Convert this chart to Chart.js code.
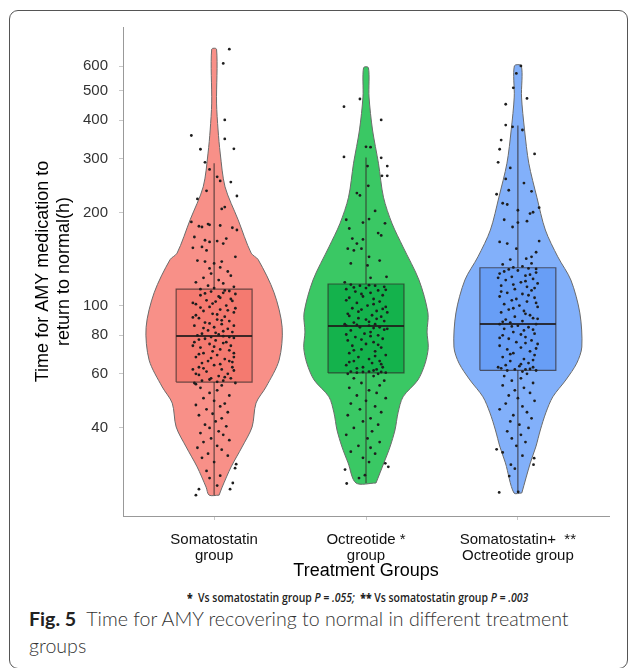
<!DOCTYPE html>
<html>
<head>
<meta charset="utf-8">
<script src="https://cdn.jsdelivr.net/npm/chart.js@4/dist/chart.umd.min.js"></script>
<style>
  body { margin: 0; background: #fff; width: 630px; height: 668px; overflow: hidden; position: relative; font-family: "Liberation Sans", Arial, sans-serif; }
  #frame { position: absolute; left: 9px; top: 10px; width: 619px; height: 659px; border: 1.5px solid #555; border-radius: 9px; box-sizing: border-box; }
  #chart-box { position: absolute; left: 0; top: 0; width: 630px; height: 585px; }
  #note { position: absolute; left: 187px; top: 589px; white-space: nowrap; font: 600 12px "Open Sans", sans-serif; color: #222; transform: scaleX(0.87); transform-origin: left top; }
  #caption { position: absolute; left: 29px; top: 605px; font: 300 19.6px/27px Lato, "Open Sans", sans-serif; color: #333; white-space: nowrap; }
  #caption b { color: #222; font-weight: 700; }
</style>
</head>
<body>
<div id="frame"></div>
<div id="chart-box"><canvas id="violin-chart" width="630" height="585"></canvas></div>
<div id="note"><b>*</b>&nbsp; Vs somatostatin group <i>P = .055;</i>&nbsp; <b>**</b> Vs somatostatin group <i>P = .003</i></div>
<div id="caption"><b>Fig. 5</b>&nbsp; Time for AMY recovering to normal in different treatment<br>groups</div>
<script>
// Categories
const groupLabels = [
  ['Somatostatin', 'group'],
  ['Octreotide *', 'group'],
  ['Somatostatin+  **', 'Octreotide group']
];
const yTicks = [40, 60, 80, 100, 200, 300, 400, 500, 600];

// Violin outlines: time (h) and half width (in category units)
const somaViolinTimes  = [24.2, 25.7, 29.9, 34.7, 40.3, 48.2, 54.4, 66.5, 85, 110, 141, 148, 190, 243, 313, 372, 455, 681];
const somaViolinWidths = [0.033, 0.053, 0.112, 0.184, 0.25, 0.276, 0.342, 0.428, 0.448, 0.395, 0.29, 0.244, 0.158, 0.072, 0.04, 0.026, 0.016, 0.016];
const octViolinTimes   = [26.5, 30.8, 34.7, 39.4, 44.8, 50.5, 57.3, 65, 73, 82, 94.6, 121, 155, 185, 225, 290, 372, 476, 593];
const octViolinWidths  = [0.066, 0.118, 0.158, 0.191, 0.211, 0.244, 0.342, 0.39, 0.41, 0.402, 0.408, 0.349, 0.244, 0.171, 0.115, 0.082, 0.043, 0.02, 0.016];
const combViolinTimes  = [24.6, 30.8, 34.7, 39.4, 44.8, 50.5, 57.3, 65, 73.3, 94.6, 121, 144, 176, 225, 290, 372, 476, 601];
const combViolinWidths = [0.026, 0.082, 0.118, 0.148, 0.184, 0.23, 0.316, 0.388, 0.421, 0.408, 0.349, 0.263, 0.181, 0.125, 0.072, 0.044, 0.024, 0.023];

// Box plots: [lower whisker, Q1, median, Q3, upper whisker]
const somaBox = [24.2, 56.4, 79.6, 113, 290];
const octBox  = [26.5, 60.4, 85.8, 117.5, 303];
const combBox = [24.6, 61.6, 87.1, 132.7, 385];

// Individual patients: [time (h), horizontal jitter]
const somaPoints = [
  [681,0.10],[612,0.06],[401,0.07],[357,-0.15],[348,0.07],[323,0.13],[322,-0.09],[292,-0.06],
  [277,-0.03],[262,0.02],[254,0.04],[252,0.11],[236,-0.05],[227,0.15],[222,-0.11],[209,0.07],[206,0.05],[187,-0.15],
  [181,-0.10],[180,-0.08],[184,-0.04],[183,-0.03],[182,0.04],[179,0.12],[176,0.15],[167,-0.13],[163,-0.06],[161,-0.03],
  [162,0.02],[165,0.08],[159,0.06],[154,-0.14],[155,-0.08],[151,-0.05],[144,0.14],[140,-0.11],[139,-0.06],[137,0.0],
  [139,0.05],[132,-0.03],[133,0.04],[129,0.09],[127,-0.02],[125,0.11],[123,-0.07],[121,0.03],[119,-0.12],[118,0.06],
  [116,-0.04],[115,0.13],[114,0.0],[113,-0.09],[112,0.07],
  [111,-0.02],[110,0.06],[108,-0.09],[107,0.03],[105,0.11],[104,-0.05],[103,0.01],[101,-0.12],[100,0.08],[99,-0.03],
  [97,0.04],[96,-0.07],[95,0.13],[94,-0.01],[92,0.07],[91,-0.10],[90,0.02],[89,0.10],[88,-0.06],[87,0.05],
  [86,-0.13],[85,0.0],[84,0.09],[83,-0.04],[82,0.12],[81,-0.08],[80.5,0.03],[80,-0.11],[79.5,0.06],[79,-0.02],
  [79,0.10],[78,-0.06],[77,0.01],[76,-0.13],[76,0.08],[75,-0.03],[74,0.11],[73,-0.09],[72,0.04],[71,-0.01],
  [70,0.13],[70,-0.07],[69,0.02],[68,-0.12],[67,0.07],[66,-0.04],[66,0.10],[65,-0.08],[64,0.0],[63,0.12],
  [63,-0.10],[62,0.05],[61,-0.05],[60,0.09],[60,-0.12],[59,0.03],[58,-0.02],[58,0.11],[57,-0.08],[57,0.06],
  [56,0.14],[56,-0.13],[98,0.14],[93,-0.12],[86,0.13],[74,-0.14],[68,0.13],[62,-0.14],[102,-0.14],[109,0.14],
  [111.5,0.10],[109.5,-0.06],[106,0.04],[103.5,0.12],[101.5,-0.01],[98.5,-0.09],[96.5,0.09],[93.5,0.02],[91.5,-0.14],[89.5,0.05],
  [87.5,-0.03],[84.5,-0.07],[82.5,0.06],[81.5,0.01],[78.5,0.13],[77.5,-0.10],[75.5,0.06],[73.5,0.0],[71.5,0.10],[69.5,-0.10],
  [67.5,-0.02],[65.5,0.12],[64.5,0.04],[62.5,-0.07],[61.5,0.13],[59.5,-0.10],[58.5,0.07],[57.5,-0.03],[56.5,0.02],[55.5,-0.12],
  [55,0.05],[54,-0.09],[53,0.02],[52,-0.03],[51,0.10],[50,-0.07],[49,0.0],[48,0.07],[47.5,-0.12],[47,0.04],
  [46,-0.05],[45,0.09],[44.5,-0.01],[44,-0.10],[43,0.05],[42,0.01],[41,-0.06],[40.5,0.08],[40,-0.03],[39,0.03],
  [38.5,-0.09],[38,0.06],[37,-0.02],[36.5,0.10],[36,-0.07],[35,0.02],[34.5,-0.11],[34,0.05],[33,-0.04],[32.5,0.09],
  [32,-0.08],[31,0.0],[30.5,0.145],[29.6,0.138],[29,-0.05],[28,0.04],[27.5,-0.03],[26.5,0.123],[26,0.02],[25.3,-0.10],
  [25.3,0.105],[24.2,-0.12]
];
const octPoints = [
  [469,-0.04],[443,-0.145],[401,0.10],[328,0.0],[327,0.03],[304,-0.145],[302,0.10],[284,0.14],[284,0.01],[264,0.105],
  [264,0.14],[245,0.015],[232,-0.06],[228,-0.04],[203,0.06],[191,0.02],[190,-0.13],[185,0.125],[178,-0.11],[186,-0.02],
  [172,0.08],[169,0.10],[165,-0.09],[164,-0.02],[159,-0.06],[153,-0.12],[151,-0.08],[153,-0.03],[144,0.02],[140,0.09],
  [137,-0.10],[135,0.01],[124,0.135],[123,0.03],[119,-0.14],
  [117,-0.10],[116,0.06],[116,-0.04],[115,0.12],[114,0.0],[113,-0.13],[112,0.08],[111,-0.07],[110,0.03],[108,0.11],
  [107,-0.02],[106,-0.11],[105,0.05],[103,0.09],[102,-0.06],[100,0.01],[99,0.13],[98,-0.09],[97,-0.03],[96,0.07],
  [94,-0.12],[93,0.04],[92,0.10],[91,-0.05],[90,0.0],[89,0.12],[88,-0.08],[87,0.06],[86,-0.13],[86,0.02],
  [85,0.09],[85,-0.04],[84,0.14],[83,-0.10],[82,0.03],[81,-0.01],[80,0.08],[79,-0.07],[78,0.11],[77,-0.12],
  [76,0.05],[75,0.0],[74,-0.09],[73,0.10],[72,-0.03],[71,0.06],[70,-0.11],[69,0.13],[68,-0.05],[67,0.02],
  [66,0.09],[66,-0.08],[65,0.04],[64,-0.13],[63,0.11],[63,-0.02],[62,0.07],[61,-0.10],[61,0.02],[60.5,0.13],
  [60.5,-0.06],[60,0.08],[60,-0.12],[95,0.14],[87,-0.14],
  [116.5,0.02],[114.5,-0.08],[112.5,0.13],[109,-0.03],[104,-0.13],[101,0.05],[97.5,0.11],[95.5,-0.05],[92.5,-0.11],[90.5,0.07],
  [88.5,0.02],[86.5,-0.06],[84.5,0.05],[83.5,0.12],[80.5,-0.13],[79.5,0.03],[77.5,-0.03],[74.5,0.08],[71.5,-0.08],[68.5,0.06],
  [65.5,-0.11],[64.5,0.1],[62.5,-0.06],[61.5,0.05],[60.8,-0.02],[60.8,0.1],
  [59,0.05],[58,-0.08],[57,0.12],[56,-0.03],[55,0.09],[54,-0.11],[53,0.02],[52,0.07],[51,-0.06],[50,0.13],
  [49,0.0],[48,-0.10],[47,0.06],[46,-0.04],[45,0.10],[44,-0.12],[43,0.03],[42,-0.02],[41,0.08],[40,-0.08],
  [39,0.04],[38,-0.13],[37,0.01],[36,0.09],[35,-0.05],[34.5,0.03],[33.5,-0.10],[33,0.06],[32,-0.02],[31,0.02],
  [30.7,0.127],[29.9,0.147],[29.3,-0.138],[28.1,-0.007],[27.5,-0.046],[26.4,-0.127]
];
const combPoints = [
  [601,0.02],[568,-0.01],[510,-0.03],[471,0.06],[451,-0.08],[386,-0.08],[381,-0.035],[372,0.03],[345,-0.11],[322,-0.12],
  [311,0.11],[292,-0.13],[280,-0.05],[258,-0.08],[250,0.04],[237,-0.06],[235,0.09],[230,-0.14],[208,0.14],[215,-0.10],
  [213,-0.07],[199,0.08],[204,0.0],[201,0.10],[190,-0.09],[180,-0.035],[186,0.0],[188,0.06],[161,-0.12],[159,-0.07],
  [162,0.14],[153,-0.01],[149,0.12],[141,-0.05],[142,0.055],[144,0.09],
  [137,0.09],[136,-0.10],[134,0.03],[133,-0.03],[132,0.07],[131,-0.06],[130,0.0],[128,0.12],[127,-0.12],[125,0.05],
  [124,-0.04],[122,0.10],[121,-0.08],[119,0.02],[118,0.13],[116,-0.11],[115,0.06],[113,-0.02],[112,0.09],[110,-0.07],
  [109,0.03],[107,-0.12],[106,0.11],[104,-0.04],[103,0.06],[101,-0.09],[100,0.01],[99,0.13],[97,-0.06],[96,0.04],
  [95,-0.11],[93,0.08],[92,-0.02],[91,0.10],[90,-0.08],[89,0.03],[88,-0.05],[87,0.12],[87,-0.12],[86,0.0],
  [85,0.07],[84,-0.09],[83,0.04],[82,-0.03],[81,0.11],[80,-0.10],[79,0.05],[78,-0.06],[77,0.09],[76,-0.01],
  [75,0.13],[74,-0.12],[73,0.02],[72,-0.07],[71,0.08],[70,-0.03],[69,0.11],[68,-0.10],[67,0.04],[66,-0.05],
  [65,0.07],[64,-0.08],[63.5,0.01],[63,0.10],[62.5,-0.11],[62,0.05],[62,-0.02],[61.5,0.12],[61.5,-0.07],[61,0.03],
  [131.5,0.12],[129,-0.09],[126,0.08],[123,-0.13],[120,0.05],[117,-0.03],[114,0.11],[111,-0.11],[108,0.07],[105,-0.01],
  [102,0.12],[98,-0.03],[94,0.05],[90.5,0.13],[88.5,-0.1],[85.5,-0.04],[83.5,0.1],[80.5,0.02],[78.5,-0.12],[75.5,0.05],
  [72.5,0.12],[69.5,-0.05],[66.5,0.1],[64.5,0.02],[63,-0.13],[62.2,0.08],
  [60,0.06],[59,-0.09],[58,0.02],[57,-0.04],[56,0.10],[55,-0.10],[54,0.04],[53,-0.02],[52,0.08],[51,-0.06],
  [50,0.0],[49,0.11],[48,-0.08],[47,0.03],[46,-0.12],[45,0.06],[44,-0.03],[43,0.09],[42,-0.05],[41,0.01],
  [40,0.07],[39,-0.07],[38,0.02],[37,-0.04],[36,0.05],[35,-0.01],[34.1,-0.14],[33.3,-0.10],[32.5,0.03],[31.9,0.107],
  [30.4,0.103],[30.4,-0.046],[29.5,-0.02],[27.9,-0.057],[24.8,0.002],[24.7,-0.123]
];

const violinTimes = [somaViolinTimes, octViolinTimes, combViolinTimes];
const violinWidths = [somaViolinWidths, octViolinWidths, combViolinWidths];
const boxStats = [somaBox, octBox, combBox];
const groupPoints = [somaPoints, octPoints, combPoints];
const violinColors = ['rgb(248,144,136)', 'rgb(58,200,100)', 'rgb(130,176,250)'];
const boxColors = ['rgb(244,122,112)', 'rgb(20,178,76)', 'rgb(104,158,246)'];
const boxHalf = 0.25;

const datasets = [];
groupLabels.forEach((label, g) => {
  const c = g + 1;
  const times = violinTimes[g];
  const widths = violinWidths[g];
  // contour: up the right side, down the left side, then closed
  const outline = times.map((t, i) => ({ x: c + widths[i], y: t }));
  for (let i = times.length - 1; i >= 0; i--) outline.push({ x: c - widths[i], y: times[i] });
  outline.push(outline[0]);
  datasets.push({
    data: outline, fill: 'shape', backgroundColor: violinColors[g],
    borderColor: '#6b6b6b', borderWidth: 1, tension: 0.3, pointRadius: 0, order: 5
  });

  const [lo, q1, med, q3, hi] = boxStats[g];
  datasets.push({
    data: [{ x: c, y: lo }, { x: c, y: hi }], borderColor: 'rgba(50,40,40,0.75)',
    borderWidth: 1.2, pointRadius: 0, fill: false, order: 4
  });
  datasets.push({
    data: [{ x: c - boxHalf, y: q1 }, { x: c + boxHalf, y: q1 }, { x: c + boxHalf, y: q3 }, { x: c - boxHalf, y: q3 }, { x: c - boxHalf, y: q1 }],
    fill: 'shape', backgroundColor: boxColors[g], borderColor: 'rgba(50,40,40,0.7)',
    borderWidth: 1.2, tension: 0, pointRadius: 0, order: 3
  });
  datasets.push({
    data: [{ x: c - boxHalf, y: med }, { x: c + boxHalf, y: med }],
    borderColor: 'rgba(30,25,25,0.85)', borderWidth: 2.2, pointRadius: 0, fill: false, order: 2
  });
  datasets.push({
    data: groupPoints[g].map(p => ({ x: c + p[1], y: p[0] })),
    showLine: false, pointRadius: 1.4, pointBorderWidth: 0,
    pointBackgroundColor: '#1e1e1e', order: 1
  });
});

Chart.defaults.font.family = '"Liberation Sans", Arial, sans-serif';

new Chart(document.getElementById('violin-chart'), {
  type: 'line',
  data: { datasets: datasets },
  options: {
    responsive: false,
    animation: false,
    layout: { padding: { left: 0, right: 21, top: 27, bottom: 0 } },
    plugins: { legend: { display: false }, tooltip: { enabled: false } },
    scales: {
      x: {
        type: 'linear', min: 0.4, max: 3.6,
        afterBuildTicks: (scale) => { scale.ticks = groupLabels.map((l, i) => ({ value: i + 1 })); },
        afterFit: (scale) => { scale.height = 69; },
        ticks: { callback: (v) => groupLabels[Math.round(v) - 1], font: { size: 15, lineHeight: 1.12 }, color: '#111', padding: 11, maxRotation: 0, autoSkip: false },
        grid: { drawOnChartArea: false, tickLength: 4, tickColor: '#c8c8c8' },
        border: { color: '#999' },
        title: { display: true, text: 'Treatment Groups', font: { size: 18, lineHeight: 1.2 }, color: '#000', padding: { top: 0, bottom: 3 } }
      },
      y: {
        type: 'logarithmic', min: 20.7, max: 804,
        afterBuildTicks: (scale) => { scale.ticks = yTicks.map(v => ({ value: v })); },
        afterFit: (scale) => { scale.width = 123; },
        ticks: { callback: (v) => String(v), font: { size: 15 }, color: '#333', padding: 11, autoSkip: false },
        grid: { drawOnChartArea: false, tickLength: 4, tickColor: '#c8c8c8' },
        border: { color: '#999' },
        title: { display: true, text: ['Time for AMY medication to', 'return to normal(h)'], font: { size: 18, lineHeight: 1.2 }, color: '#000', padding: { top: 32, bottom: 0 } }
      }
    }
  }
});
</script>
</body>
</html>
